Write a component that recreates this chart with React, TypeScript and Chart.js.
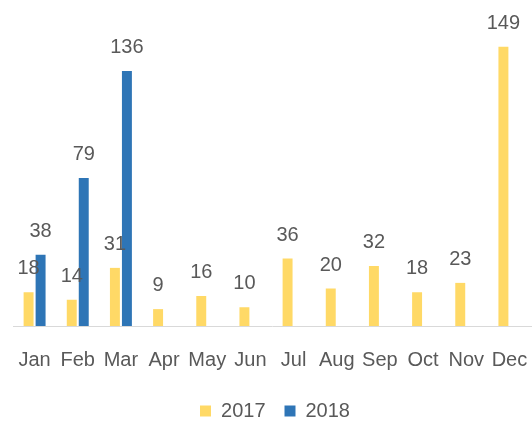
import React, { useEffect, useRef } from "react";
import { Chart, registerables } from "chart.js";

Chart.register(...registerables);

const months = ["Jan", "Feb", "Mar", "Apr", "May", "Jun", "Jul", "Aug", "Sep", "Oct", "Nov", "Dec"];
const series2017 = [18, 14, 31, 9, 16, 10, 36, 20, 32, 18, 23, 149];
const series2018 = [38, 79, 136, null, null, null, null, null, null, null, null, null];
const seriesNames = ["2017", "2018"];

const FONT = "'Liberation Sans', Arial, sans-serif";
const TEXT = "#595959";

const valueLabels = {
  id: "valueLabels",
  afterDatasetsDraw(chart: any) {
    const ctx = chart.ctx;
    ctx.save();
    ctx.font = `20px ${FONT}`;
    ctx.fillStyle = TEXT;
    ctx.textAlign = "center";
    ctx.textBaseline = "alphabetic";
    chart.data.datasets.forEach((ds: any, di: number) => {
      const meta = chart.getDatasetMeta(di);
      meta.data.forEach((bar: any, i: number) => {
        const v = ds.data[i];
        if (v === null || v === undefined) return;
        ctx.fillText(String(v), bar.x, bar.y - 18);
      });
    });
    ctx.restore();
  },
};

const legendShift = {
  id: "legendShift",
  afterLayout(chart: any) {
    if (chart.legend) {
      chart.legend.left += 3;
      chart.legend.right += 3;
    }
  },
};

export default function App() {
  const ref = useRef<HTMLCanvasElement>(null);
  useEffect(() => {
    const chart = new Chart(ref.current!, {
      type: "bar",
      data: {
        labels: months,
        datasets: [
          { label: seriesNames[0], data: series2017, backgroundColor: "#FFD966" },
          { label: seriesNames[1], data: series2018, backgroundColor: "#2E75B6" },
        ],
      },
      options: {
        animation: false,
        responsive: false,
        categoryPercentage: 0.556,
        barPercentage: 0.83,
        maxBarThickness: 10,
        layout: { padding: { top: 26, left: 13, right: 1, bottom: -8 } },
        scales: {
          x: {
            grid: { display: false },
            border: { display: true, color: "#D9D9D9", width: 1 },
            ticks: {
              color: TEXT,
              font: { family: FONT, size: 20 },
              autoSkip: false,
              maxRotation: 0,
              padding: 14,
            },
            afterFit(scale: any) {
              scale.height -= 4;
              scale.paddingLeft = 0;
              scale.paddingRight = 0;
            },
          },
          y: { display: false, min: 0, max: 160 },
        },
        plugins: {
          legend: {
            position: "bottom",
            labels: {
              color: TEXT,
              font: { family: FONT, size: 20 },
              boxWidth: 11,
              boxHeight: 11,
              padding: 19,
            },
          },
          tooltip: { enabled: false },
        },
      } as any,
      plugins: [valueLabels, legendShift],
    });
    return () => chart.destroy();
  }, []);
  return (
    <div style={{ position: "fixed", left: 0, top: 0, width: 532, height: 423 }}>
      <canvas ref={ref} width={532} height={423} style={{ display: "block" }} />
    </div>
  );
}
